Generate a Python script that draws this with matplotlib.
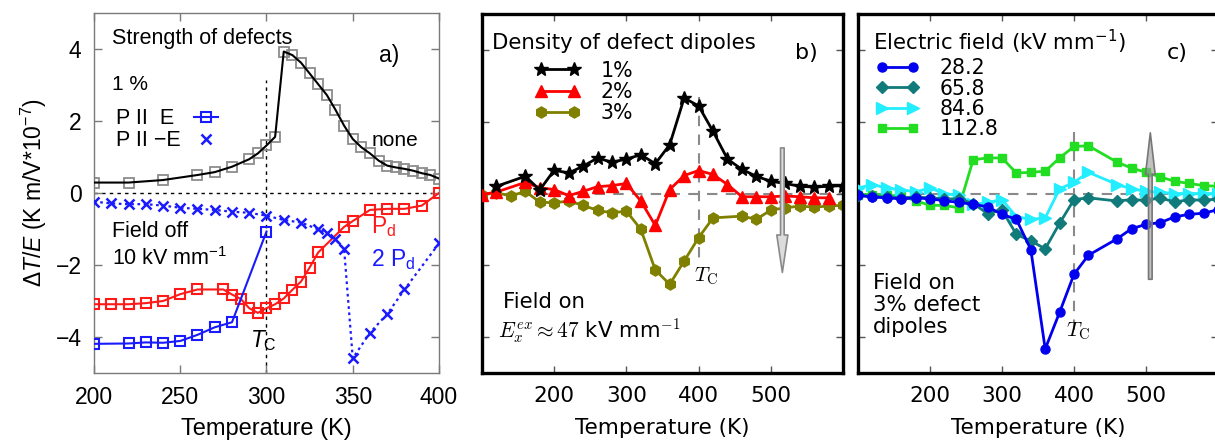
import matplotlib
matplotlib.use('Agg')
import matplotlib.pyplot as plt
from matplotlib.lines import Line2D
from matplotlib.patches import FancyArrowPatch

plt.rcParams['mathtext.fontset'] = 'custom'
plt.rcParams['mathtext.rm'] = 'Liberation Sans'
plt.rcParams['mathtext.it'] = 'Liberation Sans:italic'
plt.rcParams['mathtext.bf'] = 'Liberation Sans:bold'

# ---------------- Panel a data ----------------
a_none_T = [200, 220, 240, 260, 270, 280, 290, 295, 300, 305, 310, 315, 320, 325, 330,
            335, 340, 345, 350, 355, 360, 365, 370, 375, 380, 385, 390, 395, 400]
a_none_v = [0.29, 0.29, 0.36, 0.50, 0.58, 0.73, 0.94, 1.10, 1.32, 1.56, 3.93, 3.83, 3.62, 3.32, 3.02,
            2.72, 2.31, 1.87, 1.50, 1.27, 1.10, 0.90, 0.76, 0.71, 0.67, 0.62, 0.55, 0.50, 0.40]

a_par_T = [200, 220, 230, 240, 250, 260, 270, 280, 300]
a_par_v = [-4.19, -4.18, -4.15, -4.16, -4.11, -3.94, -3.73, -3.59, -1.07]

a_pd_T = [200, 210, 220, 230, 240, 250, 260, 275, 280, 285, 290, 295, 300, 305, 310,
          315, 320, 325, 330, 345, 350, 360, 370, 380, 390, 400]
a_pd_v = [-3.09, -3.09, -3.09, -3.06, -3.00, -2.81, -2.68, -2.68, -2.82, -2.94, -3.20, -3.33, -3.20,
          -3.09, -2.93, -2.69, -2.46, -2.07, -1.65, -0.94, -0.78, -0.47, -0.44, -0.44, -0.35, 0.0]

a_anti_T = [200, 210, 220, 230, 240, 250, 260, 270, 280, 290, 300, 310, 320, 330, 335,
            340, 345, 350, 360, 370, 380, 400]
a_anti_v = [-0.24, -0.29, -0.31, -0.31, -0.35, -0.41, -0.44, -0.47, -0.52, -0.55, -0.63, -0.75,
            -0.82, -1.01, -1.12, -1.29, -1.56, -4.59, -3.88, -3.36, -2.68, -1.40]
a_labels = ['P II  E', 'P II \u2212E']

# ---------------- Panel b data ----------------
b1_T = [120, 160, 180, 200, 220, 240, 260, 280, 300, 320, 340, 360, 380, 400, 420, 440,
        460, 480, 500, 520, 540, 560, 580, 600]
b1_v = [0.20, 0.48, 0.10, 0.65, 0.57, 0.76, 0.99, 0.87, 0.96, 1.08, 0.83, 1.36, 2.66, 2.44,
        1.73, 0.96, 0.67, 0.48, 0.34, 0.28, 0.20, 0.18, 0.20, 0.22]
b2_T = [100, 120, 160, 180, 200, 220, 240, 260, 280, 300, 320, 340, 360, 380, 400, 420,
        440, 460, 480, 500, 520, 540, 560, 580]
b2_v = [-0.03, 0.04, 0.31, 0.16, 0.11, -0.06, 0.06, 0.19, 0.22, 0.28, -0.21, -0.89, 0.11,
        0.50, 0.64, 0.53, 0.25, -0.09, -0.09, -0.09, -0.07, -0.09, -0.12, -0.12]
b3_T = [100, 120, 140, 160, 180, 200, 220, 240, 260, 280, 300, 320, 340, 360, 380, 400,
        420, 460, 480, 500, 520, 540, 560, 580, 600]
b3_v = [-0.03, 0.02, -0.07, 0.06, -0.24, -0.26, -0.21, -0.33, -0.47, -0.54, -0.49, -1.00,
        -2.13, -2.53, -1.88, -1.23, -0.68, -0.63, -0.72, -0.46, -0.40, -0.35, -0.38, -0.35, -0.33]
b_labels = ['1%', '2%', '3%']

# ---------------- Panel c data ----------------
c1_T = [100, 120, 140, 160, 180, 200, 220, 240, 260, 280, 300, 320, 340, 360, 380, 400,
        420, 460, 480, 500, 520, 540, 560, 580, 600]
c1_v = [-0.05, -0.10, -0.12, -0.15, -0.12, -0.15, -0.20, -0.25, -0.30, -0.37, -0.58, -0.72,
        -1.56, -4.33, -3.31, -2.25, -1.72, -1.26, -0.98, -0.86, -0.81, -0.65, -0.58, -0.55, -0.45]
c2_T = [100, 120, 140, 160, 180, 200, 220, 240, 260, 280, 300, 320, 340, 360, 380, 400,
        420, 460, 480, 500, 520, 540, 560, 580, 600]
c2_v = [-0.05, -0.08, -0.10, -0.12, -0.10, -0.12, -0.15, -0.15, -0.28, -0.56, -0.46, -1.14,
        -1.32, -1.54, -0.83, -0.17, -0.12, -0.21, -0.17, -0.19, -0.12, -0.24, -0.17, -0.19, -0.15]
c3_T = [100, 120, 140, 160, 180, 200, 220, 240, 260, 280, 300, 320, 340, 360, 380, 400,
        420, 460, 480, 500, 520, 540, 560, 580, 600]
c3_v = [0.15, 0.25, 0.15, 0.10, 0.05, 0.15, 0.00, -0.05, -0.30, -0.25, -0.17, -0.65, -0.72,
        -0.68, 0.13, 0.31, 0.59, 0.25, 0.13, 0.06, 0.03, 0.00, 0.00, 0.00, 0.00]
c4_T = [100, 120, 140, 160, 180, 200, 220, 240, 260, 280, 300, 320, 340, 360, 380, 400,
        420, 460, 480, 500, 520, 540, 560, 580, 600]
c4_v = [-0.03, -0.03, -0.05, -0.07, -0.20, -0.33, -0.33, -0.40, 0.94, 0.99, 0.99, 0.57, 0.59,
        0.62, 0.99, 1.31, 1.33, 0.87, 0.71, 0.59, 0.46, 0.34, 0.28, 0.22, 0.20]
c_labels = ['28.2', '65.8', '84.6', '112.8']

Tc_a = 300
Tc_bc = 400

# ---------------- Figure ----------------
W, H = 1215, 446
fig = plt.figure(figsize=(W / 100, H / 100), dpi=100)


def rect(l, r, t, b):
    return [l / W, 1 - b / H, (r - l) / W, (b - t) / H]


axa = fig.add_axes(rect(94, 439, 13, 373))
axb = fig.add_axes(rect(482, 843, 14, 373))
axc = fig.add_axes(rect(858, 1218, 14, 373))

LS = 'Liberation Sans'
DV = 'DejaVu Sans'

# ---- panel a ----
ax = axa
ax.axhline(0, color='black', lw=1.0, ls=(0, (2.5, 3)), zorder=1)
ax.plot([Tc_a, Tc_a], [-5, 3.15], color='black', lw=1.0, ls=(0, (2.5, 3)), zorder=1)
ax.plot(a_none_T, a_none_v, ls='none', marker='s', ms=6.5, mfc='none', mec='#8c8c8c', mew=1.3, zorder=2)
ax.plot(a_none_T, a_none_v, color='black', lw=1.5, zorder=3)
ax.plot(a_pd_T, a_pd_v, color='#ff1a1a', lw=1.5, marker='s', ms=6.5, mfc='none', mec='#ff1a1a', mew=1.5, zorder=3)
h_par, = ax.plot(a_par_T, a_par_v, color='#1a1aff', lw=1.5, marker='s', ms=6.5, mfc='none', mec='#1a1aff',
                 mew=1.5, zorder=3)
ax.plot(a_anti_T, a_anti_v, color='#1a1aff', lw=1.6, ls=(0, (1.2, 1.6)), marker='x', ms=6.5, mew=1.8, zorder=3)
ax.set_xlim(200, 400)
ax.set_ylim(-5, 5)
ax.set_xticks([200, 250, 300, 350, 400])
ax.set_yticks([-4, -2, 0, 2, 4])
for s in ax.spines.values():
    s.set_color('#7a7a7a')
    s.set_linewidth(1.0)
ax.tick_params(direction='in', length=6, width=1.0, color='#7a7a7a', top=True, right=True,
               labelsize=16.5, pad=9)
for lab in ax.get_xticklabels() + ax.get_yticklabels():
    lab.set_family(LS)
ax.set_xlabel('Temperature (K)', fontsize=17, family=LS, labelpad=7)
ax.set_ylabel(r'$\Delta T/E$ (K m/V*10$^{-7}$)', fontsize=16.5, family=LS, labelpad=5)

ax.text(210.5, 4.3, 'Strength of defects', fontsize=15.5, family=LS, va='center', ha='left')
ax.text(371, 3.83, 'a)', fontsize=16.5, family=LS, va='center', ha='center')
ax.text(210.5, 3.0, '1 %', fontsize=15, family=LS, va='center', ha='left')
ax.text(212.5, 2.08, a_labels[0], fontsize=15.5, family=LS, va='center', ha='left')
ax.text(212.5, 1.47, a_labels[1], fontsize=15.5, family=LS, va='center', ha='left')
ax.text(361, 1.47, 'none', fontsize=15, family=LS, va='center', ha='left')
ax.text(210.5, -1.08, 'Field off', fontsize=15.5, family=LS, va='center', ha='left')
ax.text(210.5, -1.81, r'10 kV mm$^{\mathregular{-1}}$', fontsize=15.5, family=LS, va='center', ha='left')
ax.text(360.5, -0.94, r'P$_\mathregular{d}$', fontsize=16.5, family=LS, color='#ff1a1a', va='center', ha='left')
ax.text(360.5, -1.86, r'2 P$_\mathregular{d}$', fontsize=16.5, family=LS, color='#1a1aff', va='center', ha='left')
ax.text(298, -4.1, r'$T_\mathregular{C}$', fontsize=16.5, family=LS, va='center', ha='center')

h_anti = Line2D([], [], color='#1a1aff', ls='none', marker='x', ms=6.5, mew=1.8)
# handle-only legend (labels drawn as texts to keep them left-aligned)
leg = ax.legend([h_par, h_anti], ['', ''], loc='upper left', bbox_to_anchor=(0.29, 0.735),
                frameon=False, numpoints=1, handlelength=1.1, handletextpad=0.0,
                labelspacing=0.07, borderpad=0, borderaxespad=0, prop={'family': LS, 'size': 15.5})

# ---- panels b and c common ----
for ax in (axb, axc):
    ax.axhline(0, color='#8a8a8a', lw=1.5, ls=(0, (5, 4)), zorder=1)
    ax.set_xlim(100, 600)
    ax.set_ylim(-5, 5)
    ax.set_xticks([200, 300, 400, 500])
    ax.set_yticks([-4, -2, 0, 2, 4])
    ax.tick_params(direction='in', length=5, width=1.0, color='#555555', top=True, right=True,
                   labelleft=False, labelsize=15.5, pad=9)
    for lab in ax.get_xticklabels():
        lab.set_family(DV)
    for s in ax.spines.values():
        s.set_color('black')
        s.set_linewidth(2.4)
    ax.set_xlabel('Temperature (K)', fontsize=15.5, family=DV, labelpad=9)

# ---- panel b ----
ax = axb
ax.plot([Tc_bc, Tc_bc], [2.7, -1.9], color='#8a8a8a', lw=1.5, ls=(0, (5, 4)), zorder=1)
l1, = ax.plot(b1_T, b1_v, color='black', lw=2, marker='*', ms=10.5, zorder=4)
l2, = ax.plot(b2_T, b2_v, color='red', lw=2, marker='^', ms=8, zorder=3)
l3, = ax.plot(b3_T, b3_v, color='#808000', lw=2, marker='h', ms=8, zorder=2)
ax.legend([l1, l2, l3], b_labels, loc='upper left', bbox_to_anchor=(0.147, 0.87), frameon=False,
          numpoints=2, handlelength=2.2, handletextpad=1.0, labelspacing=0.05, borderpad=0,
          borderaxespad=0, prop={'family': DV, 'size': 14.8})
ax.text(113.5, 4.19, 'Density of defect dipoles', fontsize=15.3, family=DV, va='center', ha='left')
ax.text(548.6, 3.9, 'b)', fontsize=16, family=DV, va='center', ha='center')
ax.text(129, -3.03, 'Field on', fontsize=15.3, family=DV, va='center', ha='left')
ax.text(122, -3.83, r'$E_x^{ex}\approx 47$ kV mm$^{-1}$', fontsize=15.3, family=DV, va='center', ha='left',
        math_fontfamily='cm')
ax.text(410, -2.3, r'$T_\mathrm{C}$', fontsize=15, va='center', ha='center', math_fontfamily='cm')
arr = FancyArrowPatch((516, 1.27), (516, -2.2), arrowstyle='simple,head_length=27,head_width=8,tail_width=2.6',
                      mutation_scale=1, shrinkA=0, shrinkB=0, fc='#dcdcdc', ec='#8a8a8a', lw=1.2, zorder=6)
ax.add_patch(arr)

# ---- panel c ----
ax = axc
ax.plot([Tc_bc, Tc_bc], [1.72, -3.8], color='#8a8a8a', lw=1.5, ls=(0, (5, 4)), zorder=1)
k1, = ax.plot(c1_T, c1_v, color='#0000ee', lw=2, marker='o', ms=6.5, zorder=5)
k2, = ax.plot(c2_T, c2_v, color='#117a7a', lw=2, marker='D', ms=6, zorder=4)
k3, = ax.plot(c3_T, c3_v, color='#22eeff', lw=2, marker='>', ms=8, zorder=3)
k4, = ax.plot(c4_T, c4_v, color='#22dd22', lw=2, marker='s', ms=6, zorder=2)
ax.legend([k1, k2, k3, k4], c_labels, loc='upper left', bbox_to_anchor=(0.05, 0.877), frameon=False,
          numpoints=2, handlelength=2.1, handletextpad=1.0, labelspacing=0.02, borderpad=0,
          borderaxespad=0, prop={'family': DV, 'size': 14.8})
ax.text(121, 4.22, r'Electric field (kV mm$^{-1}$)', fontsize=15.3, family=DV, va='center', ha='left',
        math_fontfamily='dejavusans')
ax.text(544, 3.9, 'c)', fontsize=16, family=DV, va='center', ha='center')
ax.text(121, -3.1, 'Field on\n3% defect\ndipoles', fontsize=15.3, family=DV, va='center', ha='left',
        linespacing=1.12)
ax.text(405, -3.83, r'$T_\mathrm{C}$', fontsize=15, va='center', ha='center', math_fontfamily='cm')
arr2 = FancyArrowPatch((506, -2.39), (506, 1.69), arrowstyle='simple,head_length=30,head_width=7,tail_width=2.6',
                       mutation_scale=1, shrinkA=0, shrinkB=0, fc=(0.6, 0.6, 0.6, 0.6), ec='#777777', lw=1.2, zorder=6)
ax.add_patch(arr2)

fig.savefig('out.png', dpi=100)
